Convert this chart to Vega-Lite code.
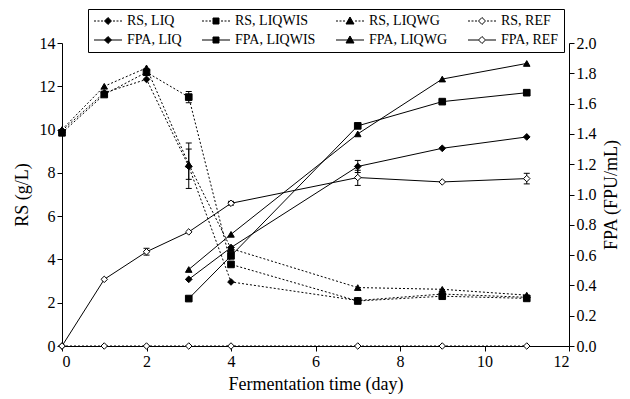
{
  "$schema": "https://vega.github.io/schema/vega-lite/v6.json",
  "width": 507,
  "height": 303,
  "padding": {"left": 13, "top": 8, "right": 2, "bottom": 2},
  "background": "white",
  "config": {
    "font": "Liberation Serif",
    "view": {"stroke": null},
    "axis": {"grid": false, "domainColor": "black", "domainWidth": 1, "tickColor": "black", "tickSize": 5, "labelColor": "black", "titleColor": "black", "labelFont": "Liberation Serif", "titleFont": "Liberation Serif", "labelFontSize": 16, "titleFontSize": 18, "titleFontWeight": "normal", "labelPadding": 2, "labelOverlap": false},
    "legend": {"strokeColor": "black", "fillColor": "white"}
  },
  "datasets": {
    "pts": [
      {"s": "RS, LIQ", "g": "RS", "d": 0, "v": 9.95},
      {"s": "RS, LIQ", "g": "RS", "d": 1, "v": 11.7},
      {"s": "RS, LIQ", "g": "RS", "d": 2, "v": 12.32},
      {"s": "RS, LIQ", "g": "RS", "d": 3, "v": 8.3, "lo": 7.28, "hi": 9.38},
      {"s": "RS, LIQ", "g": "RS", "d": 4, "v": 2.96},
      {"s": "RS, LIQ", "g": "RS", "d": 7, "v": 2.1},
      {"s": "RS, LIQ", "g": "RS", "d": 9, "v": 2.4},
      {"s": "RS, LIQ", "g": "RS", "d": 11, "v": 2.25},
      {"s": "RS, LIQWIS", "g": "RS", "d": 0, "v": 9.85},
      {"s": "RS, LIQWIS", "g": "RS", "d": 1, "v": 11.62},
      {"s": "RS, LIQWIS", "g": "RS", "d": 2, "v": 12.65},
      {"s": "RS, LIQWIS", "g": "RS", "d": 3, "v": 11.5, "lo": 11.24, "hi": 11.76},
      {"s": "RS, LIQWIS", "g": "RS", "d": 4, "v": 3.77},
      {"s": "RS, LIQWIS", "g": "RS", "d": 7, "v": 2.08},
      {"s": "RS, LIQWIS", "g": "RS", "d": 9, "v": 2.3},
      {"s": "RS, LIQWIS", "g": "RS", "d": 11, "v": 2.2},
      {"s": "RS, LIQWG", "g": "RS", "d": 0, "v": 10.0},
      {"s": "RS, LIQWG", "g": "RS", "d": 1, "v": 12.0},
      {"s": "RS, LIQWG", "g": "RS", "d": 2, "v": 12.85},
      {"s": "RS, LIQWG", "g": "RS", "d": 3, "v": 8.4, "lo": 7.7, "hi": 9.1},
      {"s": "RS, LIQWG", "g": "RS", "d": 4, "v": 4.5},
      {"s": "RS, LIQWG", "g": "RS", "d": 7, "v": 2.7},
      {"s": "RS, LIQWG", "g": "RS", "d": 9, "v": 2.62},
      {"s": "RS, LIQWG", "g": "RS", "d": 11, "v": 2.35},
      {"s": "RS, REF", "g": "RS", "d": 0, "v": 0},
      {"s": "RS, REF", "g": "RS", "d": 1, "v": 0},
      {"s": "RS, REF", "g": "RS", "d": 2, "v": 0},
      {"s": "RS, REF", "g": "RS", "d": 3, "v": 0},
      {"s": "RS, REF", "g": "RS", "d": 4, "v": 0},
      {"s": "RS, REF", "g": "RS", "d": 7, "v": 0},
      {"s": "RS, REF", "g": "RS", "d": 9, "v": 0},
      {"s": "RS, REF", "g": "RS", "d": 11, "v": 0},
      {"s": "FPA, LIQ", "g": "FPA", "d": 3, "v": 0.44},
      {"s": "FPA, LIQ", "g": "FPA", "d": 4, "v": 0.65},
      {"s": "FPA, LIQ", "g": "FPA", "d": 7, "v": 1.185, "lo": 1.145, "hi": 1.225},
      {"s": "FPA, LIQ", "g": "FPA", "d": 9, "v": 1.305},
      {"s": "FPA, LIQ", "g": "FPA", "d": 11, "v": 1.38},
      {"s": "FPA, LIQWIS", "g": "FPA", "d": 3, "v": 0.313},
      {"s": "FPA, LIQWIS", "g": "FPA", "d": 4, "v": 0.595},
      {"s": "FPA, LIQWIS", "g": "FPA", "d": 7, "v": 1.453},
      {"s": "FPA, LIQWIS", "g": "FPA", "d": 9, "v": 1.613},
      {"s": "FPA, LIQWIS", "g": "FPA", "d": 11, "v": 1.672},
      {"s": "FPA, LIQWG", "g": "FPA", "d": 3, "v": 0.505},
      {"s": "FPA, LIQWG", "g": "FPA", "d": 4, "v": 0.737},
      {"s": "FPA, LIQWG", "g": "FPA", "d": 7, "v": 1.4},
      {"s": "FPA, LIQWG", "g": "FPA", "d": 9, "v": 1.762},
      {"s": "FPA, LIQWG", "g": "FPA", "d": 11, "v": 1.865},
      {"s": "FPA, REF", "g": "FPA", "d": 0, "v": 0},
      {"s": "FPA, REF", "g": "FPA", "d": 1, "v": 0.44},
      {"s": "FPA, REF", "g": "FPA", "d": 2, "v": 0.622, "lo": 0.6, "hi": 0.645},
      {"s": "FPA, REF", "g": "FPA", "d": 3, "v": 0.753},
      {"s": "FPA, REF", "g": "FPA", "d": 4, "v": 0.942, "lo": 0.93, "hi": 0.955},
      {"s": "FPA, REF", "g": "FPA", "d": 7, "v": 1.112, "lo": 1.06, "hi": 1.16},
      {"s": "FPA, REF", "g": "FPA", "d": 9, "v": 1.083},
      {"s": "FPA, REF", "g": "FPA", "d": 11, "v": 1.105, "lo": 1.07, "hi": 1.14}
    ]
  },
  "data": {"name": "pts"},
  "layer": [
    {
      "transform": [{"filter": "datum.g === 'RS'"}],
      "layer": [
        {
          "mark": {"type": "line", "stroke": "black", "strokeWidth": 1, "strokeDash": [2, 2]},
          "encoding": {
            "x": {"field": "d", "type": "quantitative", "scale": {"domain": [0, 12]}, "axis": {"title": "Fermentation time (day)", "values": [0, 2, 4, 6, 8, 10, 12], "titlePadding": 6}},
            "y": {"field": "v", "type": "quantitative", "scale": {"domain": [0, 14]}, "axis": {"title": "RS (g/L)", "orient": "left", "values": [0, 2, 4, 6, 8, 10, 12, 14], "titlePadding": 8, "labelOverlap": false}},
            "detail": {"field": "s"}
          }
        },
        {
          "transform": [{"filter": "isValid(datum.lo)"}],
          "mark": {"type": "rule", "stroke": "black", "strokeWidth": 1},
          "encoding": {
            "x": {"field": "d", "type": "quantitative", "scale": {"domain": [0, 12]}},
            "y": {"field": "lo", "type": "quantitative", "scale": {"domain": [0, 14]}, "axis": {"title": "RS (g/L)", "orient": "left", "values": [0, 2, 4, 6, 8, 10, 12, 14], "titlePadding": 8, "labelOverlap": false}},
            "y2": {"field": "hi"}
          }
        },
        {
          "transform": [{"filter": "isValid(datum.lo)"}],
          "mark": {"type": "tick", "orient": "horizontal", "size": 6, "thickness": 1, "color": "black", "opacity": 1},
          "encoding": {
            "x": {"field": "d", "type": "quantitative", "scale": {"domain": [0, 12]}},
            "y": {"field": "lo", "type": "quantitative", "scale": {"domain": [0, 14]}, "axis": {"title": "RS (g/L)", "orient": "left", "values": [0, 2, 4, 6, 8, 10, 12, 14], "titlePadding": 8, "labelOverlap": false}}
          }
        },
        {
          "transform": [{"filter": "isValid(datum.hi)"}],
          "mark": {"type": "tick", "orient": "horizontal", "size": 6, "thickness": 1, "color": "black", "opacity": 1},
          "encoding": {
            "x": {"field": "d", "type": "quantitative", "scale": {"domain": [0, 12]}},
            "y": {"field": "hi", "type": "quantitative", "scale": {"domain": [0, 14]}, "axis": {"title": "RS (g/L)", "orient": "left", "values": [0, 2, 4, 6, 8, 10, 12, 14], "titlePadding": 8, "labelOverlap": false}}
          }
        },
        {
          "mark": {"type": "point", "filled": true, "stroke": "black", "strokeWidth": 1, "opacity": 1},
          "encoding": {
            "x": {"field": "d", "type": "quantitative", "scale": {"domain": [0, 12]}},
            "y": {"field": "v", "type": "quantitative", "scale": {"domain": [0, 14]}, "axis": {"title": "RS (g/L)", "orient": "left", "values": [0, 2, 4, 6, 8, 10, 12, 14], "titlePadding": 8, "labelOverlap": false}},
            "shape": {"field": "s", "type": "nominal", "scale": {"domain": ["RS, LIQ", "RS, LIQWIS", "RS, LIQWG", "RS, REF"], "range": ["diamond", "square", "triangle-up", "diamond"]}, "legend": null},
            "fill": {"field": "s", "type": "nominal", "scale": {"domain": ["RS, LIQ", "RS, LIQWIS", "RS, LIQWG", "RS, REF"], "range": ["black", "black", "black", "white"]}, "legend": null},
            "size": {"field": "s", "type": "nominal", "scale": {"domain": ["RS, LIQ", "RS, LIQWIS", "RS, LIQWG", "RS, REF"], "range": [45, 42, 60, 50]}, "legend": null}
          }
        }
      ]
    },
    {
      "transform": [{"filter": "datum.g === 'FPA'"}],
      "layer": [
        {
          "mark": {"type": "line", "stroke": "black", "strokeWidth": 1},
          "encoding": {
            "x": {"field": "d", "type": "quantitative", "scale": {"domain": [0, 12]}, "axis": {"title": "Fermentation time (day)", "values": [0, 2, 4, 6, 8, 10, 12], "titlePadding": 6}},
            "y": {"field": "v", "type": "quantitative", "scale": {"domain": [0, 2]}, "axis": {"title": "FPA (FPU/mL)", "orient": "right", "values": [0, 0.2, 0.4, 0.6, 0.8, 1.0, 1.2, 1.4, 1.6, 1.8, 2.0], "format": ".1f", "labelOverlap": false, "labelSeparation": 0, "titleAngle": 270, "titleBaseline": "top", "titlePadding": 6}},
            "detail": {"field": "s"}
          }
        },
        {
          "transform": [{"filter": "isValid(datum.lo)"}],
          "mark": {"type": "rule", "stroke": "black", "strokeWidth": 1},
          "encoding": {
            "x": {"field": "d", "type": "quantitative", "scale": {"domain": [0, 12]}},
            "y": {"field": "lo", "type": "quantitative", "scale": {"domain": [0, 2]}, "axis": {"title": "FPA (FPU/mL)", "orient": "right", "values": [0, 0.2, 0.4, 0.6, 0.8, 1.0, 1.2, 1.4, 1.6, 1.8, 2.0], "format": ".1f", "labelOverlap": false, "labelSeparation": 0, "titleAngle": 270, "titleBaseline": "top", "titlePadding": 6}},
            "y2": {"field": "hi"}
          }
        },
        {
          "transform": [{"filter": "isValid(datum.lo)"}],
          "mark": {"type": "tick", "orient": "horizontal", "size": 6, "thickness": 1, "color": "black", "opacity": 1},
          "encoding": {
            "x": {"field": "d", "type": "quantitative", "scale": {"domain": [0, 12]}},
            "y": {"field": "lo", "type": "quantitative", "scale": {"domain": [0, 2]}, "axis": {"title": "FPA (FPU/mL)", "orient": "right", "values": [0, 0.2, 0.4, 0.6, 0.8, 1.0, 1.2, 1.4, 1.6, 1.8, 2.0], "format": ".1f", "labelOverlap": false, "labelSeparation": 0, "titleAngle": 270, "titleBaseline": "top", "titlePadding": 6}}
          }
        },
        {
          "transform": [{"filter": "isValid(datum.hi)"}],
          "mark": {"type": "tick", "orient": "horizontal", "size": 6, "thickness": 1, "color": "black", "opacity": 1},
          "encoding": {
            "x": {"field": "d", "type": "quantitative", "scale": {"domain": [0, 12]}},
            "y": {"field": "hi", "type": "quantitative", "scale": {"domain": [0, 2]}, "axis": {"title": "FPA (FPU/mL)", "orient": "right", "values": [0, 0.2, 0.4, 0.6, 0.8, 1.0, 1.2, 1.4, 1.6, 1.8, 2.0], "format": ".1f", "labelOverlap": false, "labelSeparation": 0, "titleAngle": 270, "titleBaseline": "top", "titlePadding": 6}}
          }
        },
        {
          "mark": {"type": "point", "filled": true, "stroke": "black", "strokeWidth": 1, "opacity": 1},
          "encoding": {
            "x": {"field": "d", "type": "quantitative", "scale": {"domain": [0, 12]}},
            "y": {"field": "v", "type": "quantitative", "scale": {"domain": [0, 2]}, "axis": {"title": "FPA (FPU/mL)", "orient": "right", "values": [0, 0.2, 0.4, 0.6, 0.8, 1.0, 1.2, 1.4, 1.6, 1.8, 2.0], "format": ".1f", "labelOverlap": false, "labelSeparation": 0, "titleAngle": 270, "titleBaseline": "top", "titlePadding": 6}},
            "shape": {"field": "s", "type": "nominal", "scale": {"domain": ["FPA, LIQ", "FPA, LIQWIS", "FPA, LIQWG", "FPA, REF"], "range": ["diamond", "square", "triangle-up", "diamond"]}, "legend": null},
            "fill": {"field": "s", "type": "nominal", "scale": {"domain": ["FPA, LIQ", "FPA, LIQWIS", "FPA, LIQWG", "FPA, REF"], "range": ["black", "black", "black", "white"]}, "legend": null},
            "size": {"field": "s", "type": "nominal", "scale": {"domain": ["FPA, LIQ", "FPA, LIQWIS", "FPA, LIQWG", "FPA, REF"], "range": [45, 42, 60, 50]}, "legend": null}
          }
        }
      ]
    },
    {
      "mark": {"type": "point", "filled": true, "opacity": 0, "size": 144, "strokeWidth": 1},
      "encoding": {
        "shape": {
          "field": "s", "type": "nominal",
          "scale": {
            "domain": ["RS, LIQ", "RS, LIQWIS", "RS, LIQWG", "RS, REF", "FPA, LIQ", "FPA, LIQWIS", "FPA, LIQWG", "FPA, REF"],
            "range": [
              "M-1,0H-0.667M-0.417,0H-0.083M0.167,0H0.5M2.167,0H2.5M2.75,0H3.083M3.333,0H3.667M1.333,-0.583L1.917,0L1.333,0.583L0.75,0Z",
              "M-1,0H-0.667M-0.417,0H-0.083M0.167,0H0.5M2.167,0H2.5M2.75,0H3.083M3.333,0H3.667M0.833,-0.5H1.833V0.5H0.833Z",
              "M-1,0H-0.667M-0.417,0H-0.083M0.167,0H0.5M2.167,0H2.5M2.75,0H3.083M3.333,0H3.667M1.333,-0.667L2,0.5L0.667,0.5Z",
              "M-1,0H-0.667M-0.417,0H-0.083M0.167,0H0.5M2.167,0H2.5M2.75,0H3.083M3.333,0H3.667M1.333,-0.583L1.917,0L1.333,0.583L0.75,0Z",
              "M-1,0H3.667M1.333,-0.583L1.917,0L1.333,0.583L0.75,0Z",
              "M-1,0H3.667M0.833,-0.5H1.833V0.5H0.833Z",
              "M-1,0H3.667M1.333,-0.667L2,0.5L0.667,0.5Z",
              "M-1,0H0.75M1.917,0H3.667M1.333,-0.583L1.917,0L1.333,0.583L0.75,0Z"
            ]
          },
          "legend": {"orient": "none", "legendX": 26, "legendY": -34, "columns": 4, "direction": "horizontal", "title": null, "strokeColor": "black", "fillColor": "white", "padding": 5, "columnPadding": 18, "rowPadding": 5, "labelFontSize": 14, "labelFont": "Liberation Serif", "labelColor": "black", "labelOffset": 20, "symbolSize": 144, "symbolOpacity": 1, "symbolStrokeWidth": 1, "gridAlign": "each", "cornerRadius": 0}
        },
        "fill": {
          "field": "s", "type": "nominal",
          "scale": {
            "domain": ["RS, LIQ", "RS, LIQWIS", "RS, LIQWG", "RS, REF", "FPA, LIQ", "FPA, LIQWIS", "FPA, LIQWG", "FPA, REF"],
            "range": ["black", "black", "black", "white", "black", "black", "black", "white"]
          },
          "legend": {"orient": "none", "legendX": 26, "legendY": -34, "columns": 4, "direction": "horizontal", "title": null, "strokeColor": "black", "fillColor": "white", "padding": 5, "columnPadding": 18, "rowPadding": 5, "labelFontSize": 14, "labelFont": "Liberation Serif", "labelColor": "black", "labelOffset": 20, "symbolSize": 144, "symbolOpacity": 1, "symbolStrokeWidth": 1, "gridAlign": "each", "cornerRadius": 0}
        },
        "stroke": {
          "field": "s", "type": "nominal",
          "scale": {
            "domain": ["RS, LIQ", "RS, LIQWIS", "RS, LIQWG", "RS, REF", "FPA, LIQ", "FPA, LIQWIS", "FPA, LIQWG", "FPA, REF"],
            "range": ["black", "black", "black", "black", "black", "black", "black", "black"]
          },
          "legend": {"orient": "none", "legendX": 26, "legendY": -34, "columns": 4, "direction": "horizontal", "title": null, "strokeColor": "black", "fillColor": "white", "padding": 5, "columnPadding": 18, "rowPadding": 5, "labelFontSize": 14, "labelFont": "Liberation Serif", "labelColor": "black", "labelOffset": 20, "symbolSize": 144, "symbolOpacity": 1, "symbolStrokeWidth": 1, "gridAlign": "each", "cornerRadius": 0}
        }
      }
    }
  ],
  "resolve": {"scale": {"y": "independent", "shape": "independent", "fill": "independent", "stroke": "independent", "size": "independent"}}
}
